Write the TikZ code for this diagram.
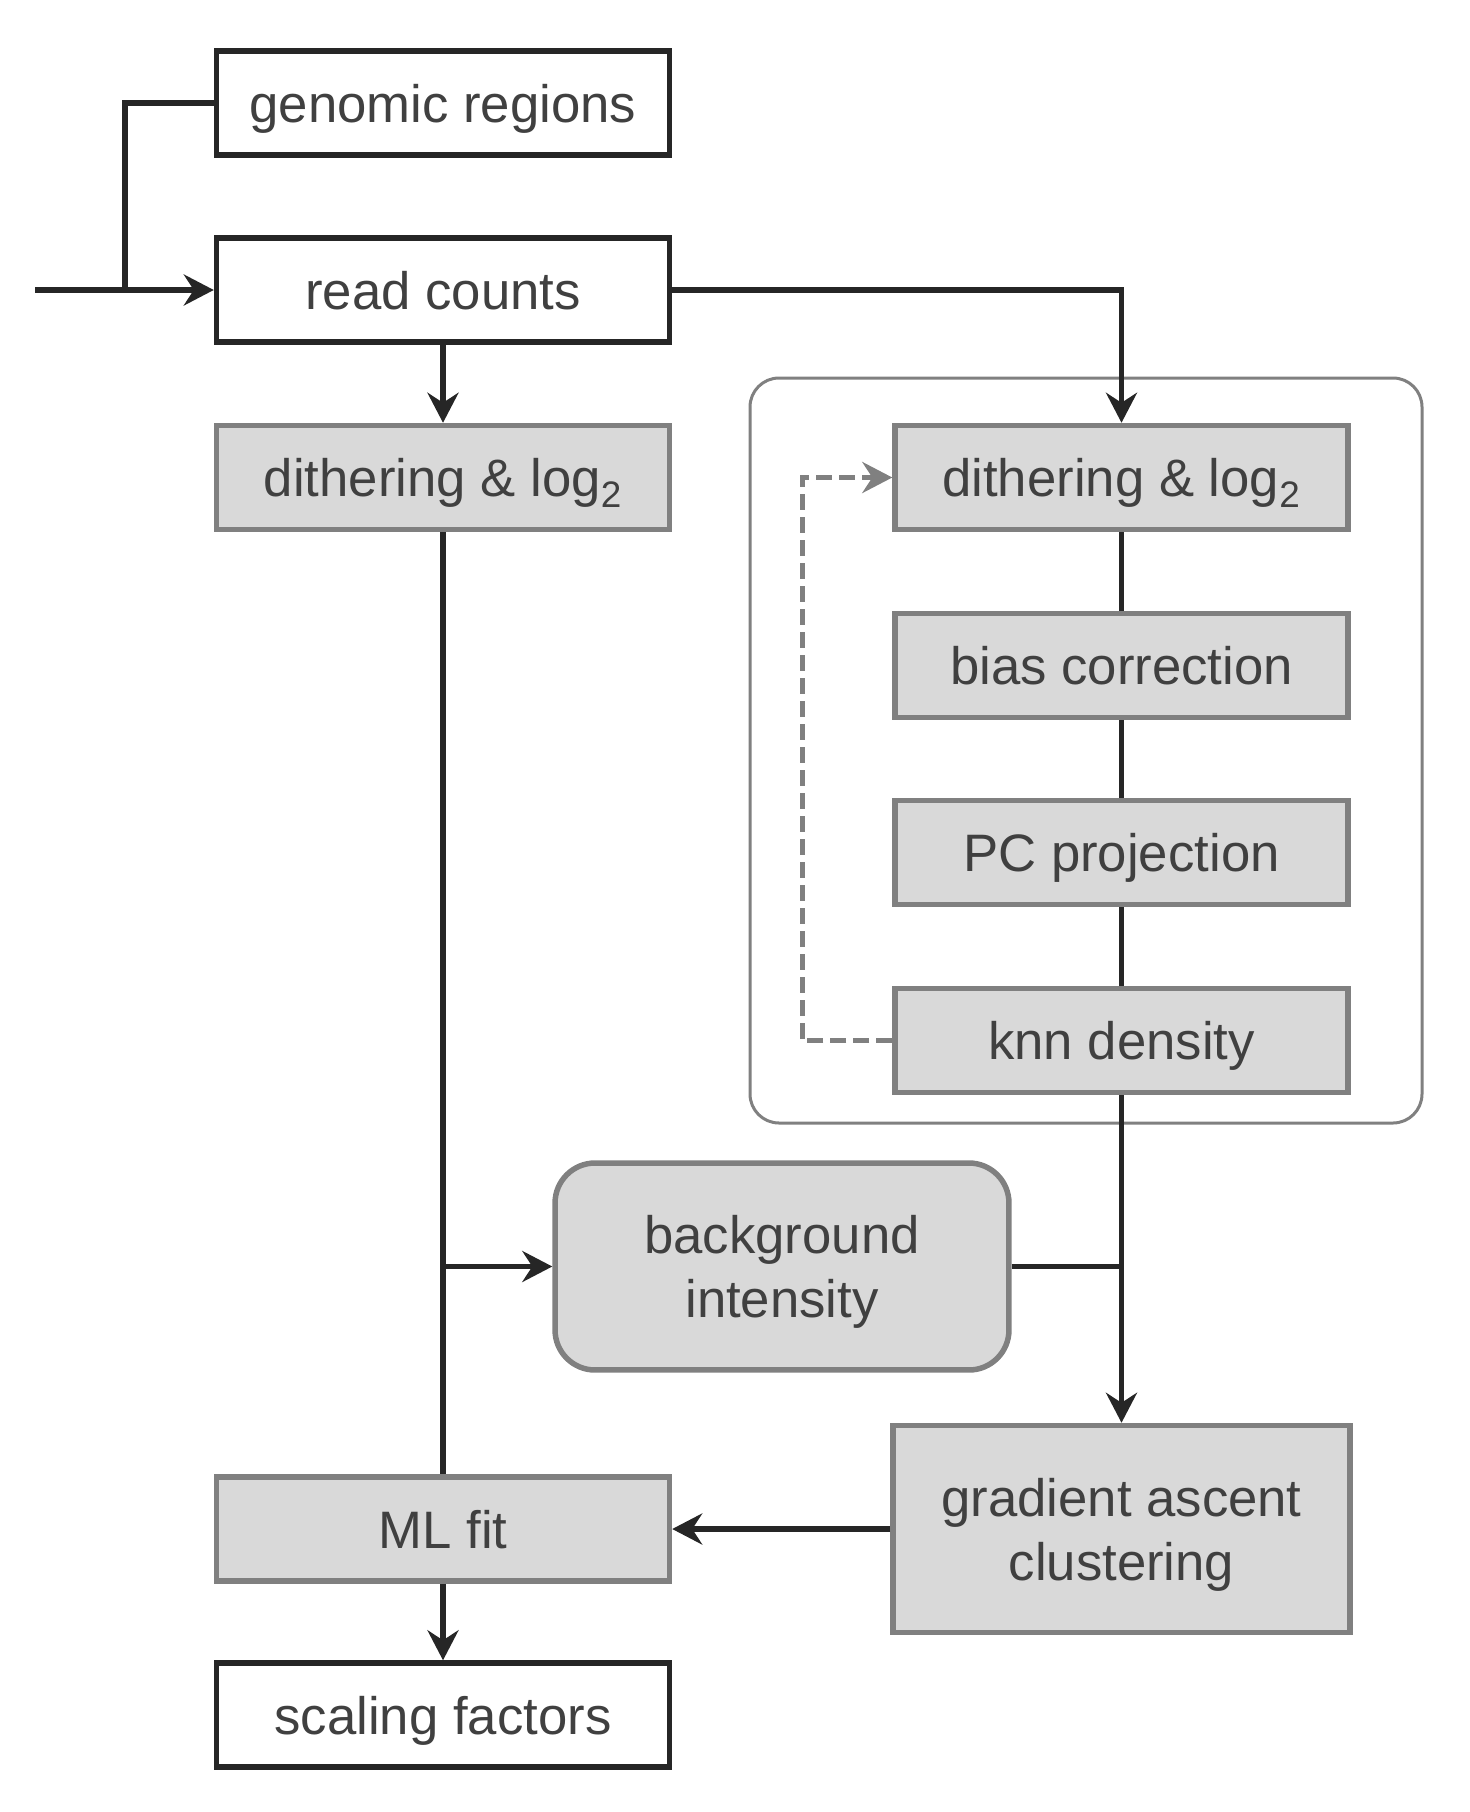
\documentclass[tikz,border=0pt]{standalone}
\usepackage{fontspec}
\setmainfont{Liberation Sans}
\usetikzlibrary{arrows.meta, positioning}
\definecolor{darkline}{RGB}{38,38,38}
\definecolor{boxgray}{RGB}{217,217,217}
\definecolor{bordergray}{RGB}{128,128,128}
\definecolor{textgray}{RGB}{64,64,64}

\begin{document}
\begin{tikzpicture}[x=0.02cm, y=-0.02cm,
    >={Stealth[length=0.6cm, width=0.62cm, inset=0.2cm]},
    every node/.style={font=\fontsize{30}{36.4}\selectfont, text=textgray, align=center, text depth=0pt},
    whitebox/.style={draw=darkline, line width=0.11cm, fill=white, minimum width=9.06cm, minimum height=2.08cm, inner sep=0pt},
    graybox/.style={whitebox, draw=bordergray, fill=boxgray},
    bigbox/.style={graybox, minimum width=9.14cm, minimum height=4.14cm},
    roundbox/.style={graybox, rounded corners=0.8cm, minimum width=9.08cm, minimum height=4.14cm},
    link/.style={draw=darkline, line width=0.11cm},
    dashlink/.style={draw=bordergray, line width=0.11cm, dash pattern=on 0.32cm off 0.14cm}]
    \useasboundingbox (0,0) rectangle (1470,1812);

    % Iteration frame
    \draw[bordergray, line width=0.06cm, rounded corners=0.58cm] (750,378) rectangle (1422,1123);

    % Left column
    \node[whitebox] (regions) at (443,103) {genomic regions};
    \node[whitebox] (counts) at (443,290) {read counts};
    \node[graybox] (ditherL) at (443,477.5) {dithering \& log\textsubscript{2}};
    \node[graybox] (mlfit) at (443,1529) {ML fit};
    \node[whitebox] (scaling) at (443,1715) {scaling factors};

    % Right column
    \node[graybox] (ditherR) at (1121.5,477.5) {dithering \& log\textsubscript{2}};
    \node[graybox] (bias) at (1121.5,665.5) {bias correction};
    \node[graybox] (pcproj) at (1121.5,852.5) {PC projection};
    \node[graybox] (knn) at (1121.5,1040.5) {knn density};
    \node[bigbox] (gradient) at (1121.5,1529) {gradient ascent\\clustering};

    % Background
    \node[roundbox] (background) at (782,1266.5) {background\\intensity};

    % Input
    \coordinate (input) at (35,290);
    \coordinate (split) at (125,290);
    \draw[link, ->] (input) -- (counts.west);
    \draw[link] (regions.west) -| (split);

    % Connectors
    \draw[link, ->] (counts.south) -- (ditherL.north);
    \draw[link, ->] (counts.east) -| (ditherR.north);
    \draw[link] (ditherL.south) -- (mlfit.north);
    \draw[link, ->] (ditherL.south |- background.west) -- (background.west);
    \draw[link] (ditherR.south) -- (bias.north);
    \draw[link] (bias.south) -- (pcproj.north);
    \draw[link] (pcproj.south) -- (knn.north);
    \draw[link, ->] (knn.south) -- (gradient.north);
    \draw[link] (background.east) -- (background.east -| knn.south);
    \draw[link, ->] (gradient.west) -- (mlfit.east);
    \draw[link, ->] (mlfit.south) -- (scaling.north);

    % Iteration loop
    \draw[dashlink, ->] (knn.west) -- ++(-90,0) |- (ditherR.west);
\end{tikzpicture}
\end{document}
